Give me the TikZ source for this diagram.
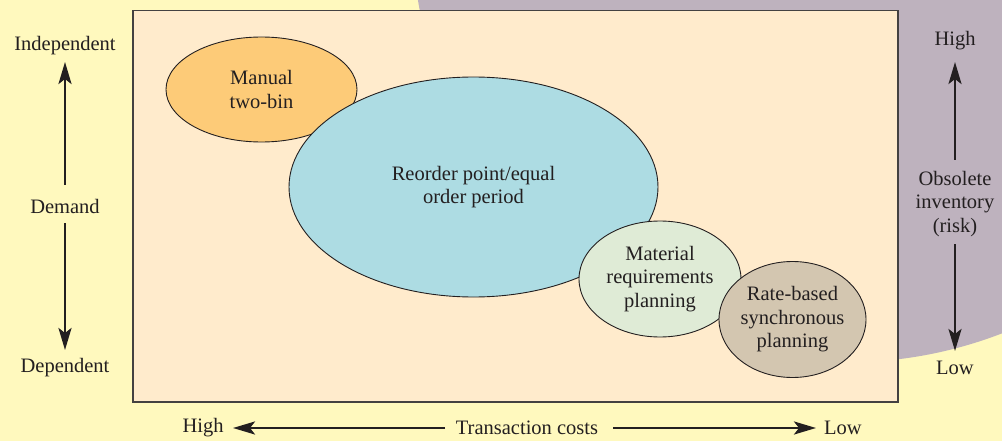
\documentclass[tikz,border=0pt]{standalone}
\usepackage{fontspec}
\setmainfont{Liberation Serif}
\usetikzlibrary{shapes.geometric,arrows.meta}
\definecolor{bgyellow}{RGB}{255,249,190}
\definecolor{bgpurple}{RGB}{190,178,190}
\definecolor{peach}{RGB}{255,235,204}
\definecolor{orangefill}{RGB}{253,203,120}
\definecolor{bluefill}{RGB}{173,220,227}
\definecolor{greenfill}{RGB}{223,235,214}
\definecolor{tanfill}{RGB}{211,198,176}
\definecolor{ink}{RGB}{35,31,32}
\tikzset{
  lbl/.style={text=ink, inner sep=0pt, align=center, font=\fontsize{20.5}{23.5}\selectfont},
  blob/.style={ellipse, draw=ink, line width=0.9pt, inner sep=0pt, text=ink, align=center, font=\fontsize{20.5}{23.5}\selectfont},
  arr/.style={draw=ink, line width=2.6pt, -{Stealth[length=22pt,width=13pt,inset=5pt]}}
}
\begin{document}
\begin{tikzpicture}[x=1pt,y=-1pt]
\useasboundingbox (0,0) rectangle (1002,441);
\fill[bgyellow] (0,0) rectangle (1002,441);
\begin{scope}
\clip (0,0) rectangle (1002,441);
\fill[bgpurple] (845.7,-71.2) circle[radius=433.6];
\end{scope}
\draw[fill=peach, draw=ink!85, line width=1.4pt] (133,10.5) rectangle (898,402);
% ellipses
\node[blob, fill=orangefill, minimum width=191pt, minimum height=105pt] (man) at (261.5,89.5) {Manual\\two-bin};
\node[blob, fill=bluefill, minimum width=369pt, minimum height=220pt] (rop) at (473.5,187) {Reorder point/equal\\order period};
\node[blob, fill=greenfill, minimum width=162pt, minimum height=116pt] (mrp) at (660,279) {Material\\requirements\\planning};
\node[blob, fill=tanfill, minimum width=147pt, minimum height=116pt] (rbs) at (792.5,319.5) {Rate-based\\synchronous\\planning};
% left axis
\node[lbl] (ind) at (65,46) {Independent};
\node[lbl] (dem) at (65,206) {Demand};
\node[lbl] (dep) at (65,368) {Dependent};
\draw[arr, shorten <=21pt, shorten >=16pt] (dem.center) -- (ind.center);
\draw[arr, shorten <=17pt, shorten >=18pt] (dem.center) -- (dep.center);
% bottom axis
\node[lbl] (bhigh) at (203,428) {High};
\node[lbl] (tc) at (527,428) {Transaction costs};
\node[lbl] (blow) at (843,428) {Low};
\draw[arr, shorten <=82pt, shorten >=30pt] (tc.center) -- (bhigh.center);
\draw[arr, shorten <=86pt, shorten >=27pt] (tc.center) -- (blow.center);
% right axis
\node[lbl] (rhigh) at (955,41) {High};
\node[lbl] (obs) at (955,204) {Obsolete\\inventory\\(risk)};
\node[lbl] (rlow) at (955,368) {Low};
\draw[arr, shorten <=44pt, shorten >=21pt] (obs.center) -- (rhigh.center);
\draw[arr, shorten <=40pt, shorten >=17pt] (obs.center) -- (rlow.center);
\end{tikzpicture}
\end{document}
